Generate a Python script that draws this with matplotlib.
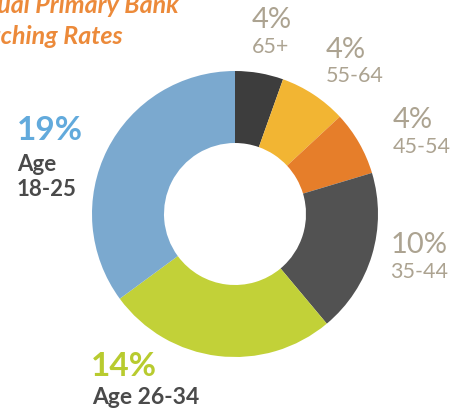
import matplotlib.pyplot as plt

# wedge shares (clockwise from 12 o'clock)
shares = [3.0, 4.2, 4.0, 10.2, 14.3, 19.3]
colors = ['#3d3d3d', '#f2b533', '#e67e2a', '#525252', '#c2d138', '#7ba9cf']
pct_labels = ['4%', '4%', '4%', '10%', '14%', '19%']
age_labels = ['65+', '55-64', '45-54', '35-44', 'Age 26-34', 'Age\n18-25']

plt.rcParams['font.family'] = ['Lato', 'DejaVu Sans']

H = 413
fig = plt.figure(figsize=(4.66, 4.13), dpi=100)
ax = fig.add_axes([0, 0, 1, 1])

ax.pie(shares, colors=colors, startangle=90, counterclock=False,
       center=(235, H - 214), radius=143,
       wedgeprops=dict(width=72, linewidth=0), frame=True)
ax.set_xlim(0, 466)
ax.set_ylim(0, H)
ax.set_aspect('equal')
ax.axis('off')

# title (cut off on the left in the original)
orange = '#ec8a3a'
ax.text(179, H - 13, 'Annual Primary Bank', ha='right', va='baseline',
        fontsize=18, fontweight='bold', fontstyle='italic', color=orange)
ax.text(123, H - 44, 'Switching Rates', ha='right', va='baseline',
        fontsize=18, fontweight='bold', fontstyle='italic', color=orange)

# light labels on the right side
grey = '#aca391'
small = [(252, 20, 47, 'left'), (326, 50, 76, 'left'),
         (393, 120, 147, 'left'), (448, 245, 272, 'right')]
for i, (x, y1, y2, ha) in enumerate(small):
    ax.text(x, H - y1, pct_labels[i], ha=ha, va='center', fontsize=21,
            fontweight='normal', color=grey)
    ax.text(x, H - y2, age_labels[i], ha=ha, va='center', fontsize=15.5,
            fontweight='normal', color=grey)

# bold labels
dark = '#4a4a4a'
ax.text(17, H - 130, pct_labels[5], ha='left', va='center', fontsize=24,
        fontweight='bold', color='#62aadc')
ax.text(17, H - 177, age_labels[5], ha='left', va='center', fontsize=16,
        fontweight='bold', color=dark, linespacing=1.25)
ax.text(91, H - 366, pct_labels[4], ha='left', va='center', fontsize=24,
        fontweight='bold', color='#b8cb2f')
ax.text(92, H - 397, age_labels[4], ha='left', va='center', fontsize=16.5,
        fontweight='bold', color=dark)

fig.savefig('out.png', dpi=100)
